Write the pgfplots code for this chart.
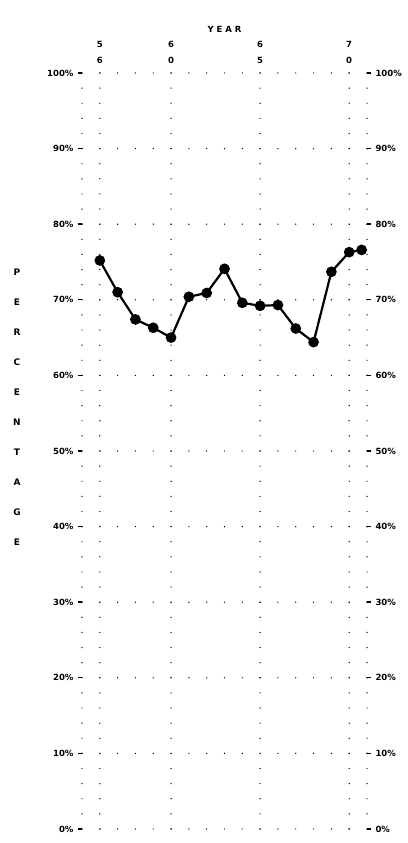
\documentclass[border=0pt]{standalone}
\usepackage{fontspec}
\setmainfont{DejaVu Sans}
\usepackage{pgfplots}
\pgfplotsset{compat=1.18}
\begin{document}
\begin{tikzpicture}[x=1pt,y=1pt]
\path[use as bounding box] (0,0) rectangle (407,843);
\begin{axis}[at={(82pt,14pt)}, anchor=south west, scale only axis,
  width=285pt, height=756pt,
  xmin=1955, xmax=1971, ymin=0, ymax=100,
  xtick={1956,1960,1965,1970},
  xticklabels={{5\\6},{6\\0},{6\\5},{7\\0}},
  xticklabel pos=upper, xtick style={draw=none},
  xticklabel style={align=center, font=\fontsize{8.5}{16}\selectfont\bfseries, yshift=2pt},
  extra x ticks={1955,1971}, extra x tick labels={},
  extra x tick style={grid=major, xtick style={draw=none}},
  ytick={0,10,20,30,40,50,60,70,80,90,100},
  yticklabels={0\%,10\%,20\%,30\%,40\%,50\%,60\%,70\%,80\%,90\%,100\%},
  ytick pos=left, yticklabel pos=left,
  yticklabel style={font=\fontsize{8.5}{10}\selectfont\bfseries, xshift=-1pt},
  tick align=outside, major tick length=4pt,
  ytick style={line width=1.4pt, black},
  xmajorgrids, ymajorgrids,
  x grid style={black, line width=1.4pt, line cap=round, dash pattern=on 0pt off 15.12pt},
  y grid style={black, line width=1.4pt, line cap=round, dash pattern=on 0pt off 17.81pt},
  axis line style={draw=none},
  clip=false]
\addplot[black, line width=2.2pt, mark=*, mark size=4.2pt] coordinates {
  (1956,75.2) (1957,71.0) (1958,67.4) (1959,66.3) (1960,65.0)
  (1961,70.4) (1962,70.9) (1963,74.1) (1964,69.6) (1965,69.2)
  (1966,69.3) (1967,66.2) (1968,64.4) (1969,73.7) (1970,76.3)
  (1970.7,76.6)};
\end{axis}
\begin{axis}[at={(82pt,14pt)}, anchor=south west, scale only axis,
  width=285pt, height=756pt,
  xmin=1955, xmax=1971, ymin=0, ymax=100,
  xtick=\empty,
  axis line style={draw=none},
  ytick={0,10,20,30,40,50,60,70,80,90,100},
  yticklabels={0\%,10\%,20\%,30\%,40\%,50\%,60\%,70\%,80\%,90\%,100\%},
  ytick pos=right, yticklabel pos=right,
  yticklabel style={font=\fontsize{8.5}{10}\selectfont\bfseries, xshift=1pt},
  tick align=outside, major tick length=4pt,
  ytick style={line width=1.4pt, black}]
\end{axis}
\node[font=\fontsize{8.5}{10}\selectfont\bfseries] at (224.5,814) {Y E A R};
\node[align=center, font=\fontsize{9}{30}\selectfont\bfseries] at (17,436) {P\\E\\R\\C\\E\\N\\T\\A\\G\\E};
\end{tikzpicture}
\end{document}
